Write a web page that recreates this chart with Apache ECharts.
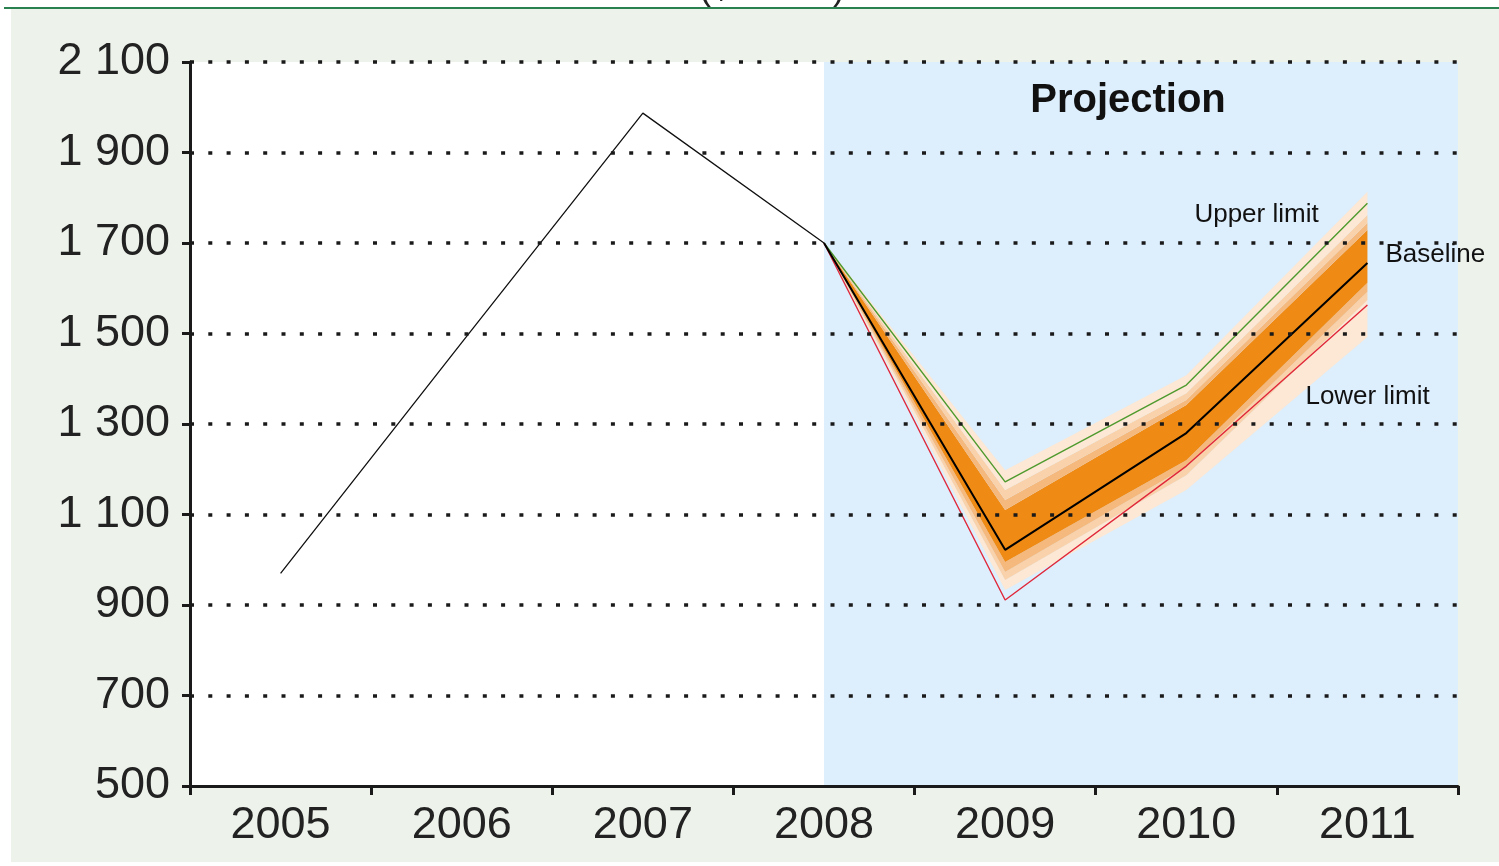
<!DOCTYPE html>
<html>
<head>
<meta charset="utf-8">
<script src="https://cdn.jsdelivr.net/npm/echarts@6/dist/echarts.min.js"></script>
<style>
  html, body { margin: 0; padding: 0; background: #fff; }
  #chart { width: 1499px; height: 866px; }
</style>
</head>
<body>
<div id="chart"></div>
<script>
// years on the x axis
var years = ['2005', '2006', '2007', '2008', '2009', '2010', '2011'];
// actual values, $ billion
var actual = [970, 1480, 1987, 1700, '-', '-', '-'];
// projection lines
var baseline = ['-', '-', '-', 1700, 1022, 1280, 1656];
var upperLimit = ['-', '-', '-', 1700, 1172, 1386, 1788];
var lowerLimit = ['-', '-', '-', 1700, 911, 1207, 1563];
// fan chart band edges (outer -> inner)
var lightestLow = ['-', '-', '-', 1700, 933, 1154, 1492];
var lightLow    = ['-', '-', '-', 1700, 955, 1187, 1574];
var mediumLow   = ['-', '-', '-', 1700, 973, 1205, 1592];
var darkLow     = ['-', '-', '-', 1700, 995, 1220, 1612];
var darkHigh    = ['-', '-', '-', 1700, 1110, 1342, 1729];
var mediumHigh  = ['-', '-', '-', 1700, 1132, 1353, 1744];
var lightHigh   = ['-', '-', '-', 1700, 1154, 1368, 1762];
var lightestHigh = ['-', '-', '-', 1700, 1198, 1408, 1813];
// y axis ticks
var yTicks = { min: 500, max: 2100, step: 200 };

var FONT = '"Liberation Sans", Arial, sans-serif';

function diff(a, b) {
    return a.map(function (v, i) {
        return v === '-' ? '-' : a[i] - b[i];
    });
}

function band(name, data, color) {
    return {
        name: name,
        type: 'line',
        stack: 'fan',
        data: data,
        symbol: 'none',
        lineStyle: { width: 0, opacity: 0 },
        areaStyle: { color: color, opacity: 1 },
        silent: true,
        z: 2
    };
}

function fmtNum(v) {
    if (v >= 1000) {
        var r = String(v % 1000);
        while (r.length < 3) r = '0' + r;
        return Math.floor(v / 1000) + ' ' + r;
    }
    return String(v);
}

var cLightest = '#fce8d4';
var cLight = '#f9d2ab';
var cMedium = '#f5b97e';
var cDark = '#ef8a14';

var dom = document.getElementById('chart');
var myChart = echarts.init(dom, null, { renderer: 'canvas' });

var option = {
    animation: false,
    backgroundColor: '#ffffff',
    textStyle: { fontFamily: FONT },
    graphic: [
        { type: 'rect', shape: { x: 11, y: 9, width: 1488, height: 853 }, style: { fill: '#edf3eb' }, z: -10 },
        { type: 'rect', shape: { x: 4, y: 7, width: 1495, height: 2 }, style: { fill: '#2a8150' }, z: -9 },
        { type: 'text', x: 772, y: -29, z: -8,
          style: { text: '($ billion)', font: '36px ' + FONT, fill: '#222', textAlign: 'center', textVerticalAlign: 'top' } }
    ],
    grid: {
        left: 190, right: 41, top: 62, bottom: 80,
        show: true, backgroundColor: '#ffffff', borderWidth: 0
    },
    xAxis: [{
        type: 'category',
        data: years,
        boundaryGap: true,
        z: 10,
        axisLine: { lineStyle: { color: '#1a1a1a', width: 3 } },
        axisTick: { show: true, length: 9, lineStyle: { color: '#1a1a1a', width: 3 } },
        axisLabel: { color: '#222', fontSize: 45, margin: 17, fontFamily: FONT },
        splitLine: { show: false }
    }, {
        // helper axis so the projection shading can run from 2008 to the right edge
        type: 'value',
        min: 0, max: 7,
        show: false
    }],
    yAxis: {
        type: 'value',
        min: yTicks.min, max: yTicks.max, interval: yTicks.step,
        z: 10,
        axisLine: { show: true, lineStyle: { color: '#1a1a1a', width: 3 } },
        axisTick: { show: true, length: 8, lineStyle: { color: '#1a1a1a', width: 3 } },
        axisLabel: { color: '#222', fontSize: 45, margin: 20, fontFamily: FONT, formatter: fmtNum },
        splitLine: {
            show: true,
            showMinLine: false,
            lineStyle: { color: '#1a1a1a', width: 3.5, type: [4, 14.3], dashOffset: 0 }
        }
    },
    series: [
        {
            name: 'projection-shade',
            type: 'line',
            xAxisIndex: 1,
            data: [],
            markArea: {
                silent: true,
                itemStyle: { color: '#ddeefc' },
                label: {
                    show: true, position: 'insideTop', distance: 19, offset: [-13, 0],
                    color: '#111', fontSize: 40, fontWeight: 'bold', fontFamily: FONT
                },
                data: [[
                    { name: 'Projection', xAxis: 3.5, yAxis: yTicks.max },
                    { xAxis: 7, yAxis: yTicks.min }
                ]]
            },
            z: 1
        },
        {
            name: 'base',
            type: 'line',
            stack: 'fan',
            data: lightestLow,
            symbol: 'none',
            lineStyle: { width: 0, opacity: 0 },
            silent: true,
            z: 2
        },
        band('b1', diff(lightLow, lightestLow), cLightest),
        band('b2', diff(mediumLow, lightLow), cLight),
        band('b3', diff(darkLow, mediumLow), cMedium),
        band('b4', diff(darkHigh, darkLow), cDark),
        band('b5', diff(mediumHigh, darkHigh), cMedium),
        band('b6', diff(lightHigh, mediumHigh), cLight),
        band('b7', diff(lightestHigh, lightHigh), cLightest),
        {
            name: 'Actual',
            type: 'line',
            data: actual,
            symbol: 'none',
            lineStyle: { color: '#111', width: 1.3 },
            z: 5
        },
        {
            name: 'Upper limit',
            type: 'line',
            data: upperLimit,
            symbol: 'none',
            lineStyle: { color: '#4f9a2e', width: 1.4 },
            endLabel: {
                show: true, formatter: 'Upper limit', distance: 5,
                offset: [-178, 12], color: '#111', fontSize: 26, fontFamily: FONT
            },
            z: 5
        },
        {
            name: 'Lower limit',
            type: 'line',
            data: lowerLimit,
            symbol: 'none',
            lineStyle: { color: '#e0283a', width: 1.4 },
            endLabel: {
                show: true, formatter: 'Lower limit', distance: 5,
                offset: [-67, 92], color: '#111', fontSize: 26, fontFamily: FONT
            },
            z: 5
        },
        {
            name: 'Baseline',
            type: 'line',
            data: baseline,
            symbol: 'none',
            lineStyle: { color: '#000', width: 2 },
            endLabel: {
                show: true, formatter: 'Baseline', distance: 5,
                offset: [13, -8], color: '#111', fontSize: 26, fontFamily: FONT
            },
            z: 6
        }
    ]
};

myChart.setOption(option);
</script>
</body>
</html>
